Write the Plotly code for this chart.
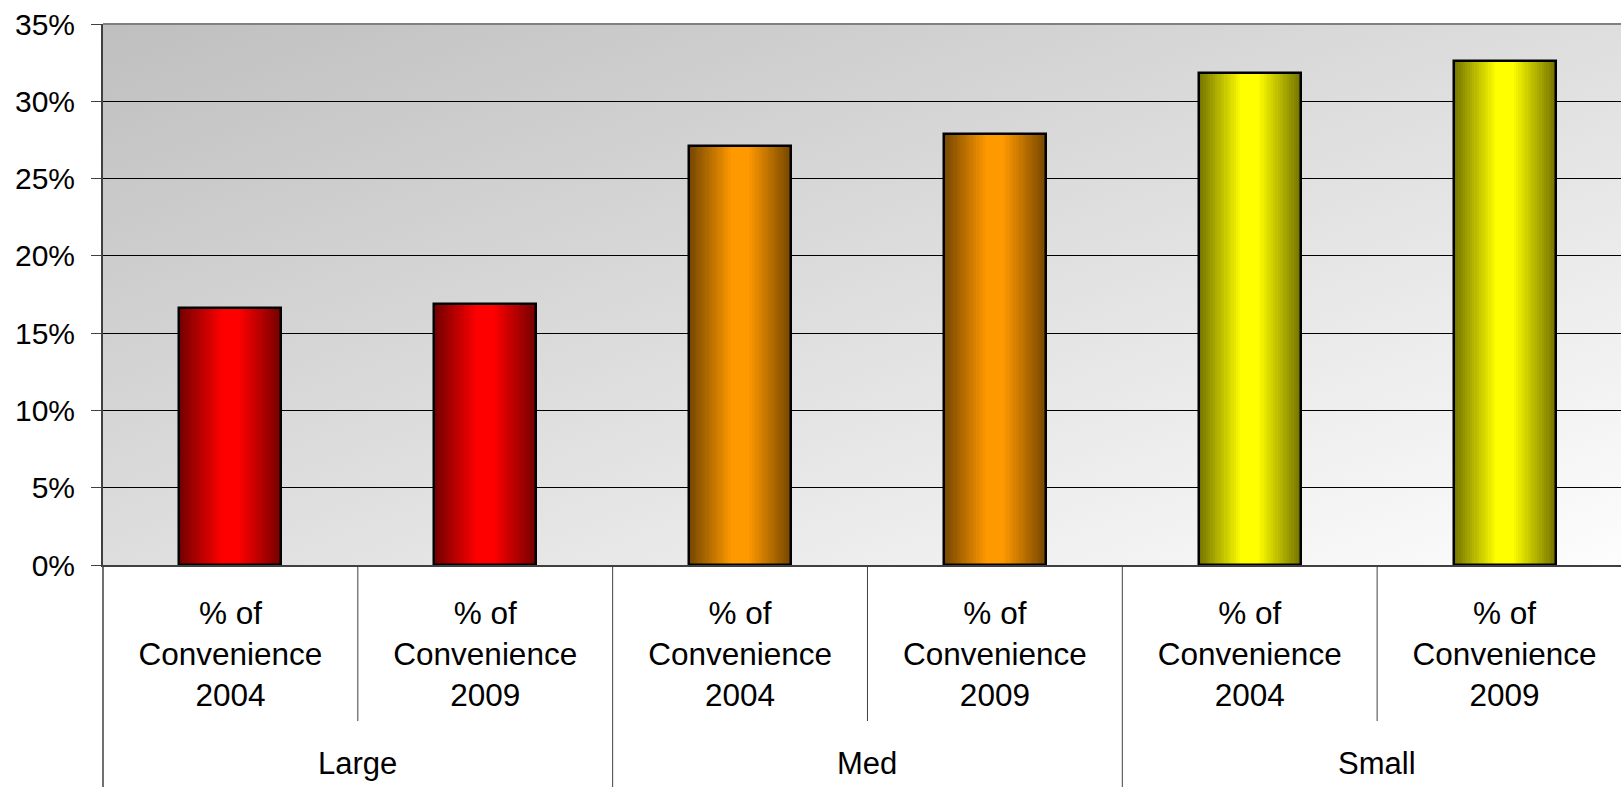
import base64
import plotly.graph_objects as go

# ---- data ----
groups = ["Large", "Large", "Med", "Med", "Small", "Small"]
series_labels = ["% of Convenience 2004", "% of Convenience 2009",
                 "% of Convenience 2004", "% of Convenience 2009",
                 "% of Convenience 2004", "% of Convenience 2009"]
values = [0.166, 0.169, 0.271, 0.279, 0.318, 0.326]
y_ticks = [0, 0.05, 0.10, 0.15, 0.20, 0.25, 0.30, 0.35]

# ---- styling ----
bright = {"Large": (255, 0, 0), "Med": (255, 153, 0), "Small": (255, 255, 0)}
dark = {"Large": (118, 0, 0), "Med": (120, 72, 0), "Small": (118, 118, 0)}
FONT = "Liberation Sans, Arial, sans-serif"
BAR_W = 0.4
N_LAYERS = 22

x_pos = list(range(len(values)))
tick_text = [s.replace("% of ", "% of<br>").replace(" 20", "<br>20") for s in series_labels]

fig = go.Figure()

# gradient bars built from overlaid narrowing layers
for k in range(N_LAYERS):
    t = min(1.0, k / (N_LAYERS - 4))
    cols = []
    for g in groups:
        d, b = dark[g], bright[g]
        c = tuple(round(d[i] + (b[i] - d[i]) * t) for i in range(3))
        cols.append("rgb(%d,%d,%d)" % c)
    fig.add_trace(go.Bar(
        x=x_pos, y=values, width=BAR_W * (1 - k / N_LAYERS),
        marker=dict(color=cols, line=dict(width=0)),
        hoverinfo="skip", showlegend=False))

# outline
fig.add_trace(go.Bar(
    x=x_pos, y=values, width=BAR_W,
    marker=dict(color="rgba(0,0,0,0)", line=dict(color="black", width=2.5)),
    showlegend=False))

# background gradient as svg image
svg = ('<svg xmlns="http://www.w3.org/2000/svg" width="100" height="100" '
       'viewBox="0 0 100 100" preserveAspectRatio="none">'
       '<defs><linearGradient id="g" x1="0" y1="0" x2="1" y2="1">'
       '<stop offset="0" stop-color="#bfbfbf"/><stop offset="1" stop-color="#fdfdfd"/>'
       '</linearGradient></defs><rect width="100" height="100" fill="url(#g)"/></svg>')
uri = "data:image/svg+xml;base64," + base64.b64encode(svg.encode()).decode()
fig.add_layout_image(dict(source=uri, xref="paper", yref="paper", x=0, y=1,
                          sizex=1, sizey=1, sizing="stretch", layer="below",
                          xanchor="left", yanchor="top"))

W, H = 1621, 787
ML, MT, MB = 103, 24, 222
plot_h = H - MT - MB
def py(pix_below_axis):
    return -pix_below_axis / plot_h

# dividers
bounds = [i + 0.5 for i in x_pos[:-1]]
for i, b in enumerate(bounds):
    if groups[i] != groups[i + 1]:
        fig.add_shape(type="line", xref="x", yref="paper", x0=b, x1=b,
                      y0=0, y1=py(230), line=dict(color="#404040", width=1))
    else:
        fig.add_shape(type="line", xref="x", yref="paper", x0=b, x1=b,
                      y0=0, y1=py(156), line=dict(color="#404040", width=1))
# left axis extension
fig.add_shape(type="line", xref="paper", yref="paper", x0=0, x1=0,
              y0=0, y1=py(230), line=dict(color="#404040", width=1.5))
# top border
fig.add_shape(type="line", xref="paper", yref="paper", x0=0, x1=1,
              y0=1, y1=1, line=dict(color="#808080", width=2))

# group labels
seen = []
for g in groups:
    if g not in seen:
        seen.append(g)
for g in seen:
    xs = [x for x, gg in zip(x_pos, groups) if gg == g]
    fig.add_annotation(x=sum(xs) / len(xs), y=py(198), xref="x", yref="paper",
                       text=g, showarrow=False, yanchor="middle",
                       font=dict(family=FONT, size=31, color="black"))

fig.update_layout(
    width=W, height=H,
    margin=dict(l=ML, r=0, t=MT, b=MB, pad=0),
    paper_bgcolor="white", plot_bgcolor="rgba(0,0,0,0)",
    barmode="overlay", bargap=0,
    showlegend=False,
    font=dict(family=FONT, size=30, color="black"),
)
fig.update_xaxes(
    range=[-0.5, 5.457], tickmode="array", tickvals=x_pos, ticktext=tick_text,
    showgrid=False, zeroline=False, showline=True, linecolor="#404040", linewidth=2,
    ticks="", ticklabelstandoff=19, tickfont=dict(family=FONT, size=31.5, color="black"),
    fixedrange=True)
fig.update_yaxes(
    range=[0, 0.35], tickmode="array", tickvals=y_ticks, tickformat=".0%",
    showgrid=True, gridcolor="black", gridwidth=1, zeroline=False,
    showline=True, linecolor="#404040", linewidth=2,
    ticks="outside", ticklen=10, tickcolor="#404040", tickwidth=1,
    ticklabelstandoff=10, tickfont=dict(family=FONT, size=30, color="black"),
    fixedrange=True)

fig.write_html("out.html")
